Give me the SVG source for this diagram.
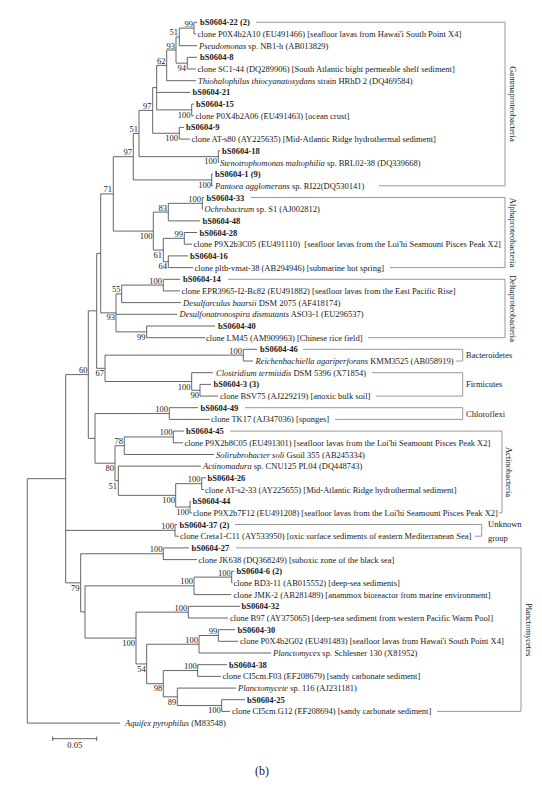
<svg xmlns="http://www.w3.org/2000/svg" width="542" height="792" viewBox="0 0 542 792">
<style>
.tr{stroke:#555;stroke-width:0.9;fill:none}
.br{stroke:#8c8c8c;stroke-width:0.9;fill:none}
text{font-family:"Liberation Serif","Times New Roman",serif;font-size:8.5px;fill:#1a1a1a}
.b{font-weight:bold}
.i{font-style:italic}
.bs{text-anchor:end}
.cl{text-anchor:middle}
</style>
<rect width="542" height="792" fill="#fff"/>
<g id="connectors">
<path class="tr" d="M194 22.3H197M194 34H196M179.3 45.7H197M187.3 57.3H197M187.3 69H196M166.7 80.7H196M156.7 92.4H190M191.7 104.1H194M191.7 115.7H194M179.3 127.4H184M179.3 139.1H190M218.3 150.8H220M218.3 162.5H219M211.7 174.1H213M211.7 185.8H213M202.3 197.5H204M202.3 209.2H203M168.3 220.9H200M184.3 232.5H197M184.3 244.2H192M168.3 255.9H188M168.3 267.6H193M163.3 279.3H180M163.3 290.9H180M121.7 302.6H181M116 314.3H177M146.7 326H215M146.7 337.7H205M243.3 349.3H257M243.3 361H253M191.7 372.7H213M200 384.4H211M200 396.1H218M169.3 407.7H198M169.3 419.4H210M173.3 431.1H184M173.3 442.8H183M124.3 454.5H214M118.3 466.1H201M201.7 477.8H206M201.7 489.5H204M190 501.2H191M190 512.9H192M175 524.5H177M175 536.2H179M163.3 547.9H189M163.3 559.6H197M231.7 571.3H234M231.7 582.9H232.5M194 594.6H231M188.3 606.3H240M188.3 618H228M218.3 629.7H235M218.3 641.3H238M199 653H271M197.7 664.7H227M197.7 676.4H221M177.3 688.1H236M221.7 699.7H245M221.7 711.4H230M27.3 723.1H120"/>
<path class="tr" d="M179.3 28.15H194M194 22.3V34M176 36.9H179.3M179.3 28.15V45.7M176 63.15H187.3M187.3 57.3V69M166.7 50H176M176 36.9V63.15M156.7 65.35H166.7M166.7 50V80.7M156.7 109.9H191.7M191.7 104.1V115.7M152.7 87.6H156.7M156.7 65.35V109.9M152.7 133.25H179.3M179.3 127.4V139.1M139 110.4H152.7M152.7 87.6V133.25M139 156.65H218.3M218.3 150.8V162.5M133.3 133.5H139M139 110.4V156.65M133.3 179.95H211.7M211.7 174.1V185.8M113.3 156.7H133.3M133.3 133.5V179.95M168.3 203.35H202.3M202.3 197.5V209.2M153.3 212.1H168.3M168.3 203.35V220.9M163.3 238.35H184.3M184.3 232.5V244.2M163.3 261.75H168.3M168.3 255.9V267.6M153.3 250.05H163.3M163.3 238.35V261.75M113.3 231.1H153.3M153.3 212.1V250.05M100.7 193.9H113.3M113.3 156.7V231.1M121.7 285.1H163.3M163.3 279.3V290.9M116 293.85H121.7M121.7 285.1V302.6M116 331.85H146.7M146.7 326V337.7M100.7 312.85H116M116 293.85V331.85M96.7 253.4H100.7M100.7 193.9V312.85M105 355.15H243.3M243.3 349.3V361M191.7 390.25H200M200 384.4V396.1M105 381.5H191.7M191.7 372.7V390.25M96.7 368.3H105M105 355.15V381.5M88.3 310.85H96.7M96.7 253.4V368.3M95 413.55H169.3M169.3 407.7V419.4M124.3 436.95H173.3M173.3 431.1V442.8M115 445.7H124.3M124.3 436.95V454.5M175.7 483.65H201.7M201.7 477.8V489.5M175.7 507.05H190M190 501.2V512.9M118.3 495.35H175.7M175.7 483.65V507.05M115 480.7H118.3M118.3 466.1V495.35M95 463.2H115M115 445.7V480.7M88.3 438.4H95M95 413.55V463.2M65.7 374.6H88.3M88.3 310.85V438.4M65.7 530.35H175M175 524.5V536.2M80.7 553.75H163.3M163.3 547.9V559.6M194 577.1H231.7M231.7 571.3V582.9M85 585.85H194M194 577.1V594.6M136 612.15H188.3M188.3 606.3V618M199 635.5H218.3M218.3 629.7V641.3M146.7 644.25H199M199 635.5V653M163.3 670.55H197.7M197.7 664.7V676.4M177.3 705.55H221.7M221.7 699.7V711.4M163.3 696.8H177.3M177.3 688.1V705.55M146.7 683.7H163.3M163.3 670.55V696.8M136 663.95H146.7M146.7 644.25V683.7M85 638.05H136M136 612.15V663.95M80.7 611.95H85M85 585.85V638.05M65.7 582.85H80.7M80.7 553.75V611.95M27.3 478.7H65.7M65.7 374.6V582.85M27.3 478.7V723.1"/>
</g>
<g id="brackets">
<path class="br" d="M256 22.3H505V185.8H379"/>
<path class="br" d="M251 197.5H505V267.6H390"/>
<path class="br" d="M228 279.3H505V337.7H368"/>
<path class="br" d="M303 349.3H462.7V361H456"/>
<path class="br" d="M372 372.7H462.7V396.1H376"/>
<path class="br" d="M245 407.7H462.7V419.4H335"/>
<path class="br" d="M230 431.1H502V512.9H499"/>
<path class="br" d="M235 524.5H481.7V536.2H475"/>
<path class="br" d="M236 547.9H521V711.4H437"/>
</g>
<g id="clade-labels">
<text class="cl" transform="translate(510,104) rotate(90)">Gammaproteobacteria</text>
<text class="cl" transform="translate(510,232.5) rotate(90)">Alphaproteobacteria</text>
<text class="cl" transform="translate(510,308.5) rotate(90)">Deltaproteobacteria</text>
<text x="466" y="358">Bacteroidetes</text>
<text x="466" y="387.3">Firmicutes</text>
<text x="466" y="416.5">Chloroflexi</text>
<text class="cl" transform="translate(506,472) rotate(90)">Actinobacteria</text>
<text x="488" y="527.3">Unknown</text>
<text x="488" y="540.7">group</text>
<text class="cl" transform="translate(526,629.6) rotate(90)">Planctomycetes</text>
</g>
<g id="leaves">
<g id="leaf-0"><text class="b" x="200" y="25.3">bS0604-22 (2)</text></g>
<g id="leaf-1"><text x="197.5" y="37">clone P0X4b2A10 (EU491466) [seafloor lavas from Hawai'i South Point X4]</text></g>
<g id="leaf-2"><text x="199" y="48.7"><tspan class="i">Pseudomonas</tspan> sp. NB1-h (AB013829)</text></g>
<g id="leaf-3"><text class="b" x="200" y="60.3">bS0604-8</text></g>
<g id="leaf-4"><text x="197.5" y="72">clone SC1-44 (DQ289906) [South Atlantic bight permeable shelf sediment]</text></g>
<g id="leaf-5"><text x="198" y="83.7"><tspan class="i">Thiohalophilus thiocyanatoxydans</tspan> strain HRhD 2 (DQ469584)</text></g>
<g id="leaf-6"><text class="b" x="192.5" y="95.4">bS0604-21</text></g>
<g id="leaf-7"><text class="b" x="196" y="107.1">bS0604-15</text></g>
<g id="leaf-8"><text x="195.5" y="118.7">clone P0X4b2A06 (EU491463) [ocean crust]</text></g>
<g id="leaf-9"><text class="b" x="186" y="130.4">bS0604-9</text></g>
<g id="leaf-10"><text x="191.5" y="142.1">clone AT-s80 (AY225635) [Mid-Atlantic Ridge hydrothermal sediment]</text></g>
<g id="leaf-11"><text class="b" x="222" y="153.8">bS0604-18</text></g>
<g id="leaf-12"><text x="220" y="165.5"><tspan class="i">Stenotrophomonas maltophilia</tspan> sp. BRL02-38 (DQ339668)</text></g>
<g id="leaf-13"><text class="b" x="215" y="177.1">bS0604-1 (9)</text></g>
<g id="leaf-14"><text x="215" y="188.8"><tspan class="i">Pantoea agglomerans</tspan> sp. RI22(DQ530141)</text></g>
<g id="leaf-15"><text class="b" x="206.5" y="200.5">bS0604-33</text></g>
<g id="leaf-16"><text x="204.5" y="212.2"><tspan class="i">Ochrobactrum</tspan> sp. S1 (AJ002812)</text></g>
<g id="leaf-17"><text class="b" x="202.5" y="223.9">bS0604-48</text></g>
<g id="leaf-18"><text class="b" x="199.5" y="235.5">bS0604-28</text></g>
<g id="leaf-19"><text x="193.5" y="247.2" xml:space="preserve">clone P9X2b3C05 (EU491110)  [seafloor lavas from the Loi'hi Seamount Pisces Peak X2]</text></g>
<g id="leaf-20"><text class="b" x="190" y="258.9">bS0604-16</text></g>
<g id="leaf-21"><text x="194.5" y="270.6">clone pltb-vmat-38 (AB294946) [submarine hot spring]</text></g>
<g id="leaf-22"><text class="b" x="183" y="282.3">bS0604-14</text></g>
<g id="leaf-23"><text x="181.5" y="293.9">clone EPR3965-I2-Bc82 (EU491882) [seafloor lavas from the East Pacific Rise]</text></g>
<g id="leaf-24"><text x="183" y="305.6"><tspan class="i">Desulfarculus baarsii</tspan> DSM 2075 (AF418174)</text></g>
<g id="leaf-25"><text x="179.5" y="317.3"><tspan class="i">Desulfonatronospira dismutants</tspan> ASO3-1 (EU296537)</text></g>
<g id="leaf-26"><text class="b" x="218" y="329">bS0604-40</text></g>
<g id="leaf-27"><text x="206" y="340.7">clone LM45 (AM909963) [Chinese rice field]</text></g>
<g id="leaf-28"><text class="b" x="260" y="352.3">bS0604-46</text></g>
<g id="leaf-29"><text x="255.5" y="364"><tspan class="i">Reichenbachiella agariperforans</tspan> KMM3525 (AB058919)</text></g>
<g id="leaf-30"><text x="216" y="375.7"><tspan class="i">Clostridium termitidis</tspan> DSM 5396 (X71854)</text></g>
<g id="leaf-31"><text class="b" x="213.5" y="387.4">bS0604-3 (3)</text></g>
<g id="leaf-32"><text x="220" y="399.1">clone BSV75 (AJ229219) [anoxic bulk soil]</text></g>
<g id="leaf-33"><text class="b" x="200.5" y="410.7">bS0604-49</text></g>
<g id="leaf-34"><text x="211" y="422.4">clone TK17 (AJ347036) [sponges]</text></g>
<g id="leaf-35"><text class="b" x="186" y="434.1">bS0604-45</text></g>
<g id="leaf-36"><text x="184.5" y="445.8">clone P9X2b8C05 (EU491301) [seafloor lavas from the Loi'hi Seamount Pisces Peak X2]</text></g>
<g id="leaf-37"><text x="216" y="457.5"><tspan class="i">Solirubrobacter soli</tspan> Gsoil 355 (AB245334)</text></g>
<g id="leaf-38"><text x="203" y="469.1"><tspan class="i">Actinomadura</tspan> sp. CNU125 PL04 (DQ448743)</text></g>
<g id="leaf-39"><text class="b" x="207.5" y="480.8">bS0604-26</text></g>
<g id="leaf-40"><text x="205" y="492.5">clone AT-s2-33 (AY225655) [Mid-Atlantic Ridge hydrothermal sediment]</text></g>
<g id="leaf-41"><text class="b" x="192.5" y="504.2">bS0604-44</text></g>
<g id="leaf-42"><text x="193" y="515.9">clone P9X2b7F12 (EU491208) [seafloor lavas from the Loi'hi Seamount Pisces Peak X2]</text></g>
<g id="leaf-43"><text class="b" x="179.5" y="527.5">bS0604-37 (2)</text></g>
<g id="leaf-44"><text x="180" y="539.2">clone Creta1-C11 (AY533950) [oxic surface sediments of eastern Mediterranean Sea]</text></g>
<g id="leaf-45"><text class="b" x="191.5" y="550.9">bS0604-27</text></g>
<g id="leaf-46"><text x="198.5" y="562.6">clone JK638 (DQ368249) [suboxic zone of the black sea]</text></g>
<g id="leaf-47"><text class="b" x="236.5" y="574.3">bS0604-6 (2)</text></g>
<g id="leaf-48"><text x="233.5" y="585.9">clone BD3-11 (AB015552) [deep-sea sediments]</text></g>
<g id="leaf-49"><text x="233.5" y="597.6">clone JMK-2 (AB281489) [anammox bioreactor from marine environment]</text></g>
<g id="leaf-50"><text class="b" x="241.5" y="609.3">bS0604-32</text></g>
<g id="leaf-51"><text x="230" y="621">clone B97 (AY375065) [deep-sea sediment from western Pacific Warm Pool]</text></g>
<g id="leaf-52"><text class="b" x="237.5" y="632.7">bS0604-30</text></g>
<g id="leaf-53"><text x="240" y="644.3">clone P0X4b2G02 (EU491483) [seafloor lavas from Hawai'i South Point X4]</text></g>
<g id="leaf-54"><text x="273" y="656"><tspan class="i">Planctomyces</tspan> sp. Schlesner 130 (X81952)</text></g>
<g id="leaf-55"><text class="b" x="229" y="667.7">bS0604-38</text></g>
<g id="leaf-56"><text x="222.5" y="679.4">clone CI5cm.F03 (EF208679) [sandy carbonate sediment]</text></g>
<g id="leaf-57"><text x="238" y="691.1"><tspan class="i">Planctomycete</tspan> sp. 116 (AJ231181)</text></g>
<g id="leaf-58"><text class="b" x="247" y="702.7">bS0604-25</text></g>
<g id="leaf-59"><text x="232" y="714.4">clone CI5cm.G12 (EF208694) [sandy carbonate sediment]</text></g>
<g id="leaf-60"><text x="125" y="726.1"><tspan class="i">Aquifex pyrophilus</tspan> (M83548)</text></g>
</g>
<g id="bootstrap">
<g id="n1"><text class="bs" x="193" y="26.6">99</text></g>
<g id="n2"><text class="bs" x="178" y="35.4">51</text></g>
<g id="n3"><text class="bs" x="175" y="48.5">93</text></g>
<g id="n4"><text class="bs" x="186" y="71">94</text></g>
<g id="n5"><text class="bs" x="165.5" y="63.8">62</text></g>
<g id="n6"><text class="bs" x="151.5" y="108.9">97</text></g>
<g id="n7"><text class="bs" x="190.5" y="117.5">100</text></g>
<g id="n8"><text class="bs" x="178" y="140.8">100</text></g>
<g id="n9"><text class="bs" x="138" y="132">51</text></g>
<g id="n10"><text class="bs" x="132" y="155.2">97</text></g>
<g id="n11"><text class="bs" x="217" y="164.2">100</text></g>
<g id="n12"><text class="bs" x="211" y="187.5">100</text></g>
<g id="n13"><text class="bs" x="112" y="192.4">71</text></g>
<g id="n14"><text class="bs" x="201" y="201.8">100</text></g>
<g id="n15"><text class="bs" x="167" y="210.6">83</text></g>
<g id="n16"><text class="bs" x="152.5" y="238.6">100</text></g>
<g id="n17"><text class="bs" x="183" y="236.8">99</text></g>
<g id="n18"><text class="bs" x="162" y="257.5">61</text></g>
<g id="n19"><text class="bs" x="167" y="269.2">64</text></g>
<g id="n20"><text class="bs" x="162" y="283.6">100</text></g>
<g id="n21"><text class="bs" x="120.5" y="292.3">55</text></g>
<g id="n22"><text class="bs" x="115" y="320">93</text></g>
<g id="n23"><text class="bs" x="145.5" y="339.5">99</text></g>
<g id="n24"><text class="bs" x="242" y="353.6">100</text></g>
<g id="n25"><text class="bs" x="87.5" y="373.1">60</text></g>
<g id="n26"><text class="bs" x="104" y="376">67</text></g>
<g id="n27"><text class="bs" x="190.5" y="389.5">100</text></g>
<g id="n28"><text class="bs" x="199" y="398">90</text></g>
<g id="n29"><text class="bs" x="168" y="412">100</text></g>
<g id="n30"><text class="bs" x="172.5" y="435.4">100</text></g>
<g id="n31"><text class="bs" x="123" y="444.2">78</text></g>
<g id="n32"><text class="bs" x="114" y="471">80</text></g>
<g id="n33"><text class="bs" x="117" y="488.5">51</text></g>
<g id="n34"><text class="bs" x="175" y="503">100</text></g>
<g id="n35"><text class="bs" x="200.5" y="482">100</text></g>
<g id="n36"><text class="bs" x="189" y="515">100</text></g>
<g id="n37"><text class="bs" x="174" y="528.8">100</text></g>
<g id="n38"><text class="bs" x="162.5" y="552.2">100</text></g>
<g id="n39"><text class="bs" x="79.5" y="590.5">79</text></g>
<g id="n40"><text class="bs" x="193" y="584.3">100</text></g>
<g id="n41"><text class="bs" x="230.7" y="575.5">100</text></g>
<g id="n42"><text class="bs" x="187.3" y="610.6">100</text></g>
<g id="n43"><text class="bs" x="135" y="645.5">100</text></g>
<g id="n44"><text class="bs" x="217.3" y="634">99</text></g>
<g id="n45"><text class="bs" x="198" y="642.7">100</text></g>
<g id="n46"><text class="bs" x="145.7" y="671.5">54</text></g>
<g id="n47"><text class="bs" x="196.7" y="669">100</text></g>
<g id="n48"><text class="bs" x="162.3" y="691">98</text></g>
<g id="n49"><text class="bs" x="176.3" y="704.5">89</text></g>
<g id="n50"><text class="bs" x="220.7" y="713.3">100</text></g>
</g>
<g id="scale-bar">
<path class="tr" d="M52.7 738.7H96.7M52.7 736.5V741M96.7 736.5V741"/>
<text class="cl" x="74.7" y="748">0.05</text>
</g>
<g id="caption"><text class="cl" x="262" y="775" style="font-size:12px">(b)</text></g>
</svg>
